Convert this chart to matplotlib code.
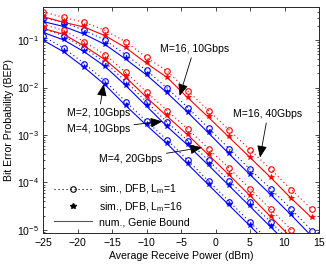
import matplotlib
matplotlib.use('Agg')
import matplotlib.pyplot as plt
from matplotlib.lines import Line2D

plt.rcParams['font.family'] = ['Liberation Sans', 'DejaVu Sans']
plt.rcParams['mathtext.fontset'] = 'custom'
plt.rcParams['mathtext.rm'] = 'Liberation Sans'
plt.rcParams['mathtext.it'] = 'Liberation Sans:italic'
plt.rcParams['mathtext.bf'] = 'Liberation Sans:bold'
plt.rcParams['mathtext.sf'] = 'Liberation Sans'

# ---------------- data ----------------
power_dbm = [-25, -22, -19, -16, -13, -10, -7, -4, -1, 2, 5, 8, 11, 14]

# M=2, 10Gbps (blue)
m2_10g_l1 = [0.121, 0.0684, 0.0320, 0.0138, 5.02e-3, 1.94e-3, 7.88e-4, 2.91e-4, 1.07e-4, 3.96e-5, 1.46e-5, 5.4e-6]
m2_10g_l16 = [0.105, 0.0593, 0.0278, 0.0120, 4.36e-3, 1.69e-3, 6.84e-4, 2.52e-4, 9.31e-5, 3.44e-5, 1.27e-5, 4.7e-6]
m2_10g_num = [0.100, 0.0566, 0.0265, 0.0114, 4.16e-3, 1.61e-3, 6.52e-4, 2.41e-4, 8.88e-5, 3.28e-5, 1.21e-5, 4.5e-6]

# M=4, 10Gbps (blue)
m4_10g_l1 = [0.177, 0.123, 0.0684, 0.0336, 0.0136, 5.02e-3, 1.85e-3, 7.52e-4, 2.91e-4, 1.07e-4, 3.96e-5, 1.46e-5, 5.4e-6]
m4_10g_l16 = [0.153, 0.106, 0.0593, 0.0291, 0.0115, 4.26e-3, 1.57e-3, 6.37e-4, 2.41e-4, 8.88e-5, 3.28e-5, 1.21e-5, 4.5e-6]
m4_10g_num = [0.146, 0.101, 0.0566, 0.0278, 0.0110, 4.06e-3, 1.50e-3, 6.07e-4, 2.30e-4, 8.47e-5, 3.13e-5, 1.15e-5, 4.3e-6]

# M=4, 20Gbps (red)
m4_20g_l1 = [0.214, 0.161, 0.0922, 0.0491, 0.0209, 8.08e-3, 3.28e-3, 1.33e-3, 5.14e-4, 1.99e-4, 7.34e-5, 2.71e-5, 1.0e-5]
m4_20g_l16 = [0.185, 0.139, 0.0781, 0.0406, 0.0173, 6.52e-3, 2.59e-3, 1.05e-3, 3.96e-4, 1.50e-4, 5.53e-5, 1.99e-5, 7.2e-6]
m4_20g_num = [0.177, 0.133, 0.0745, 0.0387, 0.0165, 6.22e-3, 2.47e-3, 1.00e-3, 3.78e-4, 1.43e-4, 5.27e-5, 1.90e-5, 6.8e-6]

# M=16, 10Gbps (blue)
m16_10g_l1 = [0.298, 0.235, 0.161, 0.100, 0.0491, 0.0230, 9.77e-3, 3.78e-3, 1.39e-3, 5.14e-4, 1.90e-4, 7.34e-5, 2.71e-5, 9.5e-6]
m16_10g_l16 = [0.259, 0.204, 0.139, 0.0847, 0.0416, 0.0194, 8.08e-3, 3.13e-3, 1.15e-3, 4.16e-4, 1.53e-4, 5.79e-5, 2.14e-5, 7.5e-6]
m16_10g_num = [0.247, 0.194, 0.133, 0.0808, 0.0396, 0.0185, 7.70e-3, 2.98e-3, 1.10e-3, 3.96e-4, 1.46e-4, 5.53e-5, 2.04e-5, 7.2e-6]

# M=16, 40Gbps (red)
m16_40g_l1 = [0.396, 0.302, 0.238, 0.161, 0.0922, 0.0432, 0.0222, 8.47e-3, 3.28e-3, 1.27e-3, 4.91e-4, 1.90e-4, 7.0e-5, 2.71e-5]
m16_40g_l16 = [0.328, 0.250, 0.197, 0.130, 0.0728, 0.0340, 0.0171, 6.37e-3, 2.47e-3, 9.31e-4, 3.52e-4, 1.33e-4, 4.79e-5, 1.85e-5]
m16_40g_num = [0.313, 0.238, 0.188, 0.124, 0.0694, 0.0325, 0.0163, 6.07e-3, 2.35e-3, 8.88e-4, 3.36e-4, 1.27e-4, 4.57e-5, 1.77e-5]

legend_labels = ['sim., DFB, L$_\\mathregular{m}$=1', 'sim., DFB, L$_\\mathregular{m}$=16', 'num., Genie Bound']
x_ticks = [-25, -20, -15, -10, -5, 0, 5, 10, 15]
y_ticks = [1e-5, 1e-4, 1e-3, 1e-2, 1e-1]
y_tick_labels = ['$10^{-5}$', '$10^{-4}$', '$10^{-3}$', '$10^{-2}$', '$10^{-1}$']

# annotations: text, arrow tip (dBm, BEP), text centre (dBm, BEP)
ann_texts = ['M=2, 10Gbps', 'M=4, 10Gbps', 'M=4, 20Gbps', 'M=16, 10Gbps', 'M=16, 40Gbps']
ann_tips = [(-16.2, 1.18e-2), (-7.7, 1.94e-3), (-1.95, 5.47e-4), (-5.2, 6.7e-3), (6.45, 3.36e-4)]
ann_text_pos = [(-16.9, 2.9e-3), (-17.0, 1.35e-3), (-12.3, 3.1e-4), (-3.1, 0.066), (7.6, 2.8e-3)]

# ---------------- plot ----------------
BLUE = (0, 0, 1)
RED = (1, 0, 0)
curves = [
    (BLUE, m2_10g_l1, m2_10g_l16, m2_10g_num),
    (BLUE, m4_10g_l1, m4_10g_l16, m4_10g_num),
    (RED, m4_20g_l1, m4_20g_l16, m4_20g_num),
    (BLUE, m16_10g_l1, m16_10g_l16, m16_10g_num),
    (RED, m16_40g_l1, m16_40g_l16, m16_40g_num),
]

fig = plt.figure(figsize=(3.26, 2.70), dpi=100)
ax = fig.add_axes([43 / 326, 1 - 233 / 270, 276 / 326, 226 / 270])

FS = 7.6
MS_O = 4.0
MS_S = 4.0
for col, l1, l16, num in curves:
    ax.plot(power_dbm[:len(num)], num, '-', color=col, lw=0.8)
    ax.plot(power_dbm[:len(l1)], l1, linestyle=(0, (1, 2.6)), color=col, lw=0.8,
            marker='o', ms=MS_O, mfc='none', mew=0.8)
    ax.plot(power_dbm[:len(l16)], l16, linestyle='none', color=col,
            marker='*', ms=MS_S, mew=0.5)

ax.set_yscale('log')
ax.set_xlim(-25, 15)
ax.set_ylim(8.6e-6, 0.5)
ax.set_xticks(x_ticks)
ax.set_xticklabels([f'\u2212{abs(v)}' if v < 0 else str(v) for v in x_ticks])
ax.set_yticks(y_ticks)
ax.set_yticklabels(y_tick_labels)
ax.tick_params(which='both', direction='in', top=True, right=True, labelsize=FS, width=0.5)
ax.tick_params(which='major', length=3.0)
ax.tick_params(which='minor', length=1.6)
ax.tick_params(axis='x', pad=3.5)
ax.tick_params(axis='y', pad=3)
for s in ax.spines.values():
    s.set_linewidth(0.7)
    s.set_color('0.15')

ax.set_xlabel('Average Receive Power (dBm)', fontsize=FS)
ax.set_ylabel('Bit Error Probability (BEP)', fontsize=FS)
ax.xaxis.set_label_coords(0.5, -0.08)
ax.yaxis.set_label_coords(-0.105, 0.5)

for t, tip, tp in zip(ann_texts, ann_tips, ann_text_pos):
    ax.annotate(t, xy=tip, xytext=tp, ha='center', va='center', fontsize=FS,
                arrowprops=dict(arrowstyle='-|>,head_length=0.6,head_width=0.25',
                                color='k', lw=0.6, mutation_scale=12,
                                shrinkA=1, shrinkB=0))

handles = [
    Line2D([], [], linestyle=(0, (1, 2.6)), color='k', lw=0.8, marker='o', ms=MS_O, mfc='none', mew=0.8),
    Line2D([], [], linestyle='none', color='k', marker='*', ms=MS_S),
    Line2D([], [], linestyle='-', color='0.35', lw=0.8),
]
ax.legend(handles, legend_labels, loc='lower left', bbox_to_anchor=(0.02, 0.0),
          frameon=False, fontsize=FS, handlelength=3.6, handletextpad=0.6,
          labelspacing=0.35, borderaxespad=0.15)

fig.savefig('out.png', dpi=100)
